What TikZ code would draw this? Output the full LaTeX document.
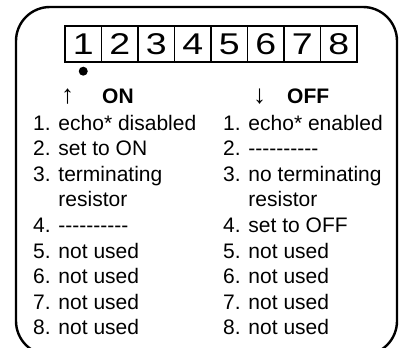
\documentclass[tikz,border=0pt]{standalone}
\usepackage{fontspec}
\setmainfont{Liberation Sans}[Ligatures=TeXOff]
\newfontfamily\digitfont{Liberation Sans}[FakeStretch=1.25]
\begin{document}
\begin{tikzpicture}[x=1pt,y=-1pt,
  sw/.style={draw,line width=1.4pt,minimum width=36.5pt,minimum height=36pt,
    inner sep=0pt,font=\digitfont\fontsize{30}{30}\selectfont},
  txt/.style={anchor=base west,inner sep=0pt,font=\fontsize{21}{25}\selectfont},
  head/.style={txt,font=\fontsize{21}{25}\selectfont\bfseries},
  arr/.style={txt,font=\fontsize{26}{25}\selectfont}]
\useasboundingbox (0,0) rectangle (399,348);
\draw[line width=2.4pt,rounded corners=34pt] (16,7) rectangle (397,355);
% dip switch
\foreach \i in {1,...,8}
  \node[sw] (sw\i) at (65+36.5*\i-18.25,44) {\i};
\path (sw1.south) +(0,8.5) node[circle,fill,inner sep=0pt,minimum size=9pt] (dot) {};
% headings
\path
(61,103)  node[arr]  (up)   {↑}
(102,103) node[head] (on)   {ON}
(253,103) node[arr]  (down) {↓}
(287,103) node[head] (off)  {OFF};
% ON column
\foreach \t [count=\k] in {1. echo* disabled,2. set to ON,3. terminating,
    \hphantom{3. }resistor,4. ----------,5. not used,6. not used,7. not used,8. not used}
  \node[txt] (on\k) at (33,104.4+25.6*\k) {\t};
% OFF column
\foreach \t [count=\k] in {1. echo* enabled,2. ----------,3. no terminating,
    \hphantom{3. }resistor,4. set to OFF,5. not used,6. not used,7. not used,8. not used}
  \node[txt] (off\k) at (223,104.4+25.6*\k) {\t};
\end{tikzpicture}
\end{document}
